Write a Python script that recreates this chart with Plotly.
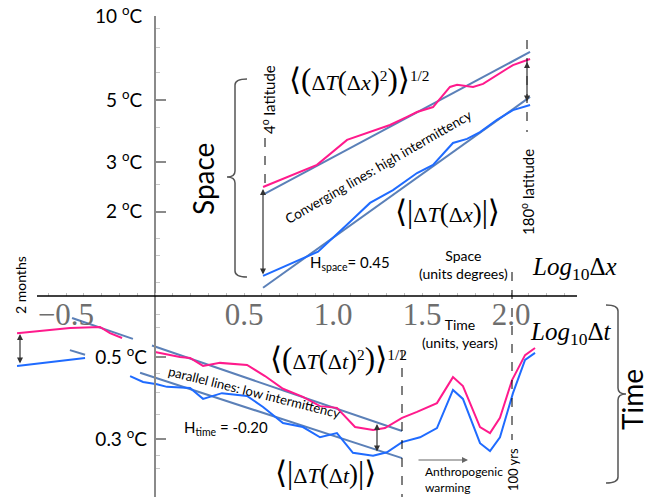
import plotly.graph_objects as go

W, H = 649, 497

# ---------------- data ----------------
# Space: x = log10(dx, degrees), y = temperature fluctuation (deg C)
space_rms_x = [0.607, 0.910, 1.079, 1.208, 1.320, 1.416, 1.472, 1.562, 1.657, 1.697, 1.787, 1.843, 1.921, 2.011, 2.107]
space_rms = [2.45, 2.94, 3.61, 3.85, 4.08, 4.36, 4.54, 4.73, 5.58, 5.68, 5.58, 5.72, 6.15, 6.68, 7.02]
space_mean_x = [0.607, 0.854, 0.916, 1.096, 1.208, 1.337, 1.472, 1.562, 1.674, 1.753, 1.826, 1.921, 2.011, 2.107]
space_mean = [1.18, 1.38, 1.44, 1.84, 2.15, 2.39, 2.75, 2.94, 3.52, 3.64, 3.85, 4.26, 4.61, 4.81]
space_fit_x = [0.607, 2.107]
space_fit_rms = [2.30, 7.44]
space_fit_mean = [1.07, 5.14]

# Time: x = log10(dt, years), y = temperature fluctuation (deg C); None = hidden behind label
time_rms_x = [-0.775, -0.478, -0.309, -0.253, -0.185, None, 0.0, 0.140, 0.197, 0.270, 0.365, 0.517,
              0.618, 0.719, 0.831, 0.927, 1.022, 1.124, 1.225, 1.292, 1.388, 1.472, 1.584, 1.674,
              1.730, 1.826, 1.882, 1.938, 2.006, 2.079, 2.135]
time_rms = [0.580, 0.599, 0.603, 0.580, 0.563, None, 0.516, 0.500, 0.497, 0.473, 0.482, 0.476,
            0.444, 0.410, 0.390, 0.368, 0.364, 0.323, 0.317, 0.321, 0.342, 0.355, 0.375, 0.441,
            0.417, 0.323, 0.311, 0.342, 0.433, 0.506, 0.529]
time_mean_x = [-0.775, -0.461, -0.393, None, -0.140, -0.067, 0.011, 0.067, 0.197, 0.270, 0.376, 0.517,
               0.607, 0.719, 0.831, 0.927, 1.022, 1.112, 1.225, 1.303, 1.388, 1.489, 1.584, 1.674,
               1.730, 1.826, 1.882, 1.938, 2.011, 2.079, 2.135]
time_mean = [0.473, 0.494, 0.497, None, 0.444, 0.428, 0.422, 0.415, 0.412, 0.385, 0.399, 0.392,
             0.366, 0.331, 0.323, 0.303, 0.311, 0.275, 0.270, 0.276, 0.294, 0.303, 0.321, 0.407,
             0.385, 0.292, 0.278, 0.303, 0.399, 0.491, 0.513]
time_fit_rms_x = [-0.466, -0.124, None, -0.017, 1.388]
time_fit_rms = [0.638, 0.560, None, 0.537, 0.315]
time_fit_mean_x = [-0.478, -0.393, None, -0.084, 1.388]
time_fit_mean = [0.522, 0.507, None, 0.453, 0.266]

# ticks
x_tickvals = [-0.5, 0.5, 1.0, 1.5, 2.0]
x_ticktext = ["\u22120.5", "0.5", "1.0", "1.5", "2.0"]
space_tickvals = [2, 3, 5, 10]
space_ticktext = ["2 <sup>o</sup>C", "3 <sup>o</sup>C", "5 <sup>o</sup>C", "10 <sup>o</sup>C"]
space_minor = [1.12, 1.4, 1.6, 2.5, 4, 6.3, 7.7, 9]
time_tickvals = [0.3, 0.5]
time_ticktext = ["0.3 <sup>o</sup>C", "0.5 <sup>o</sup>C"]
time_minor = [0.25, 0.27, 0.35, 0.4, 0.45, 0.6, 0.65]
x_minor = [round(-0.6 + 0.1 * i, 1) for i in range(30)]

PINK = "#ff1a8c"
BLUE = "#1f6bff"
STEEL = "#5b80b8"
SANS = "Lato, 'Open Sans', sans-serif"
SERIF = "'Liberation Serif', 'DejaVu Serif', serif"

# ---------------- pixel helpers for decorations ----------------
X0PX, XUNIT = 155.0, 178.0


def px(x):
    return x / W


def py(y):
    return 1 - y / H


fig = go.Figure()

line_fit = dict(color=STEEL, width=2)
fig.add_trace(go.Scatter(x=space_fit_x, y=space_fit_rms, mode="lines", line=line_fit, yaxis="y"))
fig.add_trace(go.Scatter(x=space_fit_x, y=space_fit_mean, mode="lines", line=line_fit, yaxis="y"))
fig.add_trace(go.Scatter(x=space_rms_x, y=space_rms, mode="lines", line=dict(color=PINK, width=2), yaxis="y"))
fig.add_trace(go.Scatter(x=space_mean_x, y=space_mean, mode="lines", line=dict(color=BLUE, width=2), yaxis="y"))

fig.add_trace(go.Scatter(x=time_fit_rms_x, y=time_fit_rms, mode="lines", line=line_fit, yaxis="y2"))
fig.add_trace(go.Scatter(x=time_fit_mean_x, y=time_fit_mean, mode="lines", line=line_fit, yaxis="y2"))
fig.add_trace(go.Scatter(x=time_rms_x, y=time_rms, mode="lines", line=dict(color=PINK, width=2), yaxis="y2"))
fig.add_trace(go.Scatter(x=time_mean_x, y=time_mean, mode="lines", line=dict(color=BLUE, width=2), yaxis="y2"))

top_frac = 1 - 16 / H

fig.update_layout(
    width=W, height=H,
    margin=dict(l=0, r=0, t=0, b=0, pad=0),
    paper_bgcolor="white", plot_bgcolor="white",
    showlegend=False,
    xaxis=dict(
        domain=[0, 1], automargin=False,
        range=[(0 - X0PX) / XUNIT, (W - X0PX) / XUNIT],
        anchor="free", position=1 - 296 / H,
        showgrid=False, zeroline=False, showline=False,
        tickmode="array", tickvals=x_tickvals, ticktext=x_ticktext,
        ticks="", ticklabelstandoff=-3,
        tickfont=dict(family=SERIF, size=31, color="#6e6e6e"),
        minor=dict(tickmode="array", tickvals=x_minor, ticks="inside", ticklen=3,
                   tickcolor="#bdbdbd", tickwidth=1, showgrid=False),
    ),
    yaxis=dict(
        type="log", domain=[0, top_frac], automargin=False,
        range=[1 - (H - 16) / 280.0, 1.0],
        anchor="free", position=X0PX / W, side="left",
        showgrid=False, zeroline=False,
        showline=True, linecolor="#8a8a8a", linewidth=2,
        tickmode="array", tickvals=space_tickvals, ticktext=space_ticktext,
        ticks="inside", ticklen=10, tickcolor="#8a8a8a", tickwidth=1.5,
        ticklabelstandoff=8,
        tickfont=dict(family=SANS, size=19, color="black"),
        minor=dict(tickmode="array", tickvals=space_minor, ticks="inside", ticklen=4,
                   tickcolor="#c8c8c8", tickwidth=1, showgrid=False),
    ),
    yaxis2=dict(
        type="log", overlaying="y", automargin=False,
        range=[-0.30103 - (H - 357) / 369.0, -0.30103 + (357 - 16) / 369.0],
        anchor="free", position=X0PX / W, side="left",
        showgrid=False, zeroline=False, showline=False,
        tickmode="array", tickvals=time_tickvals, ticktext=time_ticktext,
        ticks="inside", ticklen=10, tickcolor="#8a8a8a", tickwidth=1.5,
        ticklabelstandoff=8,
        tickfont=dict(family=SANS, size=19, color="black"),
        minor=dict(tickmode="array", tickvals=time_minor, ticks="inside", ticklen=4,
                   tickcolor="#c8c8c8", tickwidth=1, showgrid=False),
    ),
)

# ---------------- shapes ----------------
shapes = []
shapes.append(dict(type="line", xref="paper", yref="paper", x0=px(37), x1=px(577), y0=py(296), y1=py(296),
                   line=dict(color="black", width=1.5)))


def vdash(x, y0, y1):
    shapes.append(dict(type="line", xref="paper", yref="paper", x0=px(x), x1=px(x), y0=py(y0), y1=py(y1),
                       line=dict(color="black", width=1, dash="dash")))


vdash(265, 138, 188)
vdash(527, 40, 132)
vdash(402, 350, 497)
vdash(512, 272, 440)


def brace(x, ytop, ymid, ybot, sgn, depth=12, tip=8, r=6):
    p = lambda a, b: f"{px(a):.5f},{py(b):.5f}"
    path = (f"M {p(x + sgn * depth, ytop)} Q {p(x, ytop)} {p(x, ytop + r)} L {p(x, ymid - r)} "
            f"Q {p(x, ymid)} {p(x - sgn * tip, ymid)} Q {p(x, ymid)} {p(x, ymid + r)} "
            f"L {p(x, ybot - r)} Q {p(x, ybot)} {p(x + sgn * depth, ybot)}")
    shapes.append(dict(type="path", xref="paper", yref="paper", path=path,
                       line=dict(color="#555555", width=1.5)))


brace(235, 79, 177, 277, 1)
brace(618, 305, 394, 483, -1)
fig.update_layout(shapes=shapes)

# ---------------- annotations ----------------
anns = []


def ann(text, x, y, size, angle=0, family=SANS, color="black", **kw):
    d = dict(text=text, x=px(x), y=py(y), xref="paper", yref="paper", showarrow=False,
             textangle=angle, font=dict(family=family, size=size, color=color),
             xanchor="center", yanchor="middle")
    d.update(kw)
    anns.append(d)


def arrow(x, yhead, dx, dy, both=True, color="#333333"):
    anns.append(dict(text="", x=px(x), y=py(yhead), xref="paper", yref="paper", showarrow=True,
                     ax=dx, ay=dy, arrowhead=2, startarrowhead=2, arrowsize=1, startarrowsize=1,
                     arrowwidth=1.2, arrowcolor=color,
                     arrowside="end+start" if both else "end"))


BIG = "<span style='font-size:31px'>"
MID = "<span style='font-size:27px'>"
E = "</span>"


def rms(v):
    return (BIG + "\u27e8(" + E + "\u0394<i>T</i>" + MID + "(" + E + "\u0394<i>" + v + "</i>" + MID + ")" + E +
            "<sup>2</sup>" + BIG + ")\u27e9" + E + "<sup>1/2</sup>")


def mabs(v):
    return (BIG + "\u27e8|" + E + "\u0394<i>T</i>" + MID + "(" + E + "\u0394<i>" + v + "</i>" + MID + ")" + E +
            BIG + "|\u27e9" + E)


ann("Space", 203, 179, 28, angle=-90)
ann("4<sup>o</sup> latitude", 268, 100, 15, angle=-90)
ann(rms("x"), 360, 80, 22, family=SERIF)
ann("Converging lines: high intermittency", 378, 167, 13.5, angle=-30)
ann(mabs("x"), 447, 211, 22, family=SERIF)
ann("180<sup>o</sup> latitude", 527, 192, 15, angle=-90)
ann("H<sub>space</sub>= 0.45", 350, 263, 15)
ann("Space<br>(units degrees)", 464, 264, 14)
ann("<i>Log</i><sub>10</sub>\u0394<i>x</i>", 574, 268, 25, family=SERIF)
ann("Time<br>(units, years)", 460, 333, 14)
ann("<i>Log</i><sub>10</sub>\u0394<i>t</i>", 570, 333, 25, family=SERIF)
ann("Time", 632, 400, 28, angle=-90)
ann("2 months", 20, 285, 14, angle=-90)
ann(rms("t"), 338, 358, 22, family=SERIF)
ann("parallel lines: low intermittency", 254, 392, 13, angle=14)
ann("H<sub>time</sub> = -0.20", 226, 428, 15)
ann(mabs("t"), 325, 472, 22, family=SERIF)
ann("Anthropogenic<br>warming", 423, 479, 12, xanchor="left", align="left")
ann("100 yrs", 513, 470, 13, angle=-90)

arrow(263, 189, 0, 87)
arrow(527, 62, 0, 41)
arrow(20, 334, 0, 31)
arrow(377, 424, 0, 29)
arrow(468, 460, -51, 0, both=False, color="#666666")

fig.update_layout(annotations=anns)

fig.write_html("out.html", config={"displayModeBar": False},
               post_script="document.body.style.margin='0px';document.body.style.overflow='hidden';")
